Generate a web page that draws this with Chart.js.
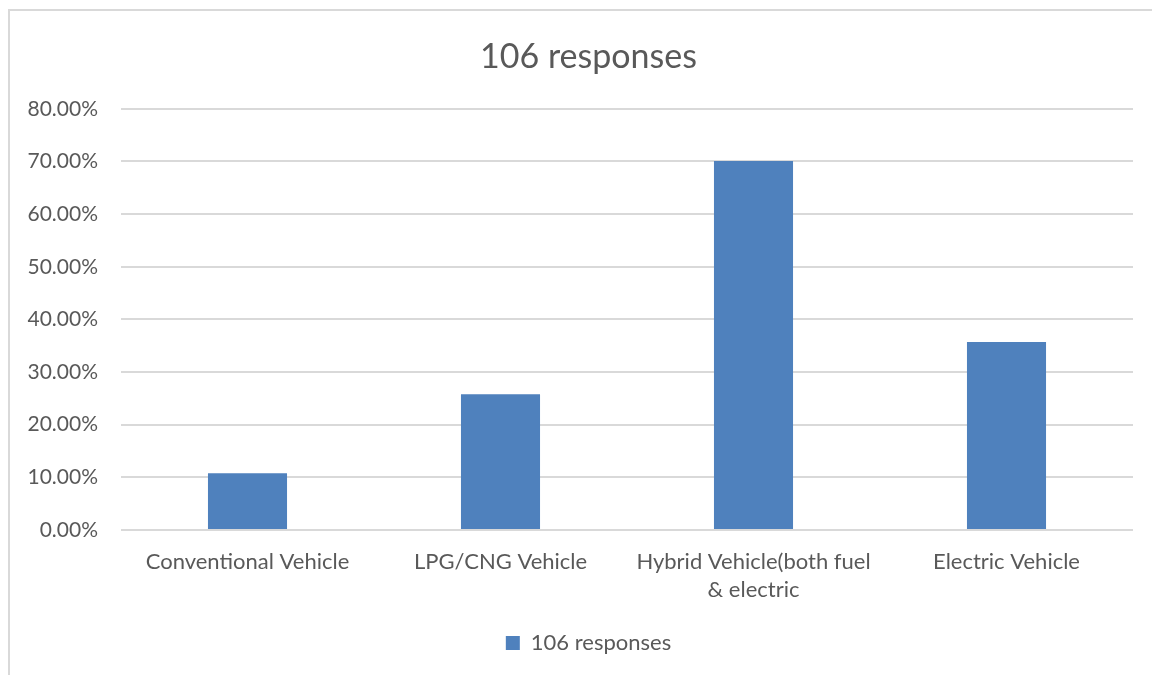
<!DOCTYPE html>
<html>
<head>
<meta charset="utf-8">
<title>106 responses</title>
<script src="https://cdn.jsdelivr.net/npm/chart.js@4"></script>
<style>
  html, body { margin: 0; padding: 0; background: #fff; }
  #wrap { position: relative; width: 1152px; height: 675px; overflow: hidden; }
  #frame {
    position: absolute; left: 8px; top: 9px; width: 1200px; height: 700px;
    border-left: 2px solid #d9d9d9; border-top: 2px solid #d9d9d9;
  }
  canvas { position: absolute; left: 0; top: 0; }
</style>
</head>
<body>
<div id="wrap">
  <div id="frame"></div>
  <canvas id="chart" width="1152" height="675"></canvas>
</div>
<script>
const categories = [
    'Conventional Vehicle',
    'LPG/CNG Vehicle',
    ['Hybrid Vehicle(both fuel', '& electric'],
    'Electric Vehicle'
];
const seriesName = '106 responses';
const shares = [10.8, 25.8, 70.1, 35.7];   // percent of respondents
const yTicks = [0, 10, 20, 30, 40, 50, 60, 70, 80];

const textColor = '#595959';
const fontFamily = 'Lato, "Open Sans", sans-serif';

// title and legend sit centred on the framed box, not on the plot
const centreOnFrame = {
    id: 'centreOnFrame',
    afterLayout(chart) {
        const shift = 22;
        [chart.titleBlock, chart.legend].forEach(box => {
            if (!box) return;
            box.left += shift;
            box.right += shift;
            if (box.legendHitBoxes) box.legendHitBoxes.forEach(h => { h.left += shift; });
        });
    }
};

const ctx = document.getElementById('chart').getContext('2d');

new Chart(ctx, {
    type: 'bar',
    data: {
        labels: categories,
        datasets: [{
            label: seriesName,
            data: shares,
            backgroundColor: '#4f81bd',
            borderWidth: 0,
            categoryPercentage: 1,
            barPercentage: 0.3125
        }]
    },
    plugins: [centreOnFrame],
    options: {
        responsive: false,
        animation: false,
        layout: { padding: { left: 0, right: 19, top: 37, bottom: 11 } },
        plugins: {
            title: {
                display: true,
                text: seriesName,
                color: textColor,
                font: { family: fontFamily, size: 34, weight: 'normal', lineHeight: 1.2 },
                padding: { top: 0, bottom: 31 }
            },
            legend: {
                position: 'bottom',
                labels: {
                    color: textColor,
                    font: { family: fontFamily, size: 22 },
                    boxWidth: 14,
                    boxHeight: 14,
                    padding: 10
                }
            },
            tooltip: { enabled: false }
        },
        scales: {
            x: {
                grid: { display: false },
                border: { display: false },
                ticks: {
                    color: textColor,
                    font: { family: fontFamily, size: 22, lineHeight: 1.27 },
                    padding: 10,
                    maxRotation: 0
                },
                afterFit: function(scale) { scale.height = 92; }
            },
            y: {
                min: 0,
                max: 80,
                afterBuildTicks: function(scale) {
                    scale.ticks = yTicks.map(v => ({ value: v }));
                },
                grid: { color: '#d9d9d9', lineWidth: 2, drawTicks: false },
                border: { display: false },
                ticks: {
                    color: textColor,
                    font: { family: fontFamily, size: 21 },
                    padding: 23,
                    callback: function(value) { return value.toFixed(2) + '%'; }
                },
                afterFit: function(scale) { scale.width = 121; }
            }
        }
    }
});
</script>
</body>
</html>
